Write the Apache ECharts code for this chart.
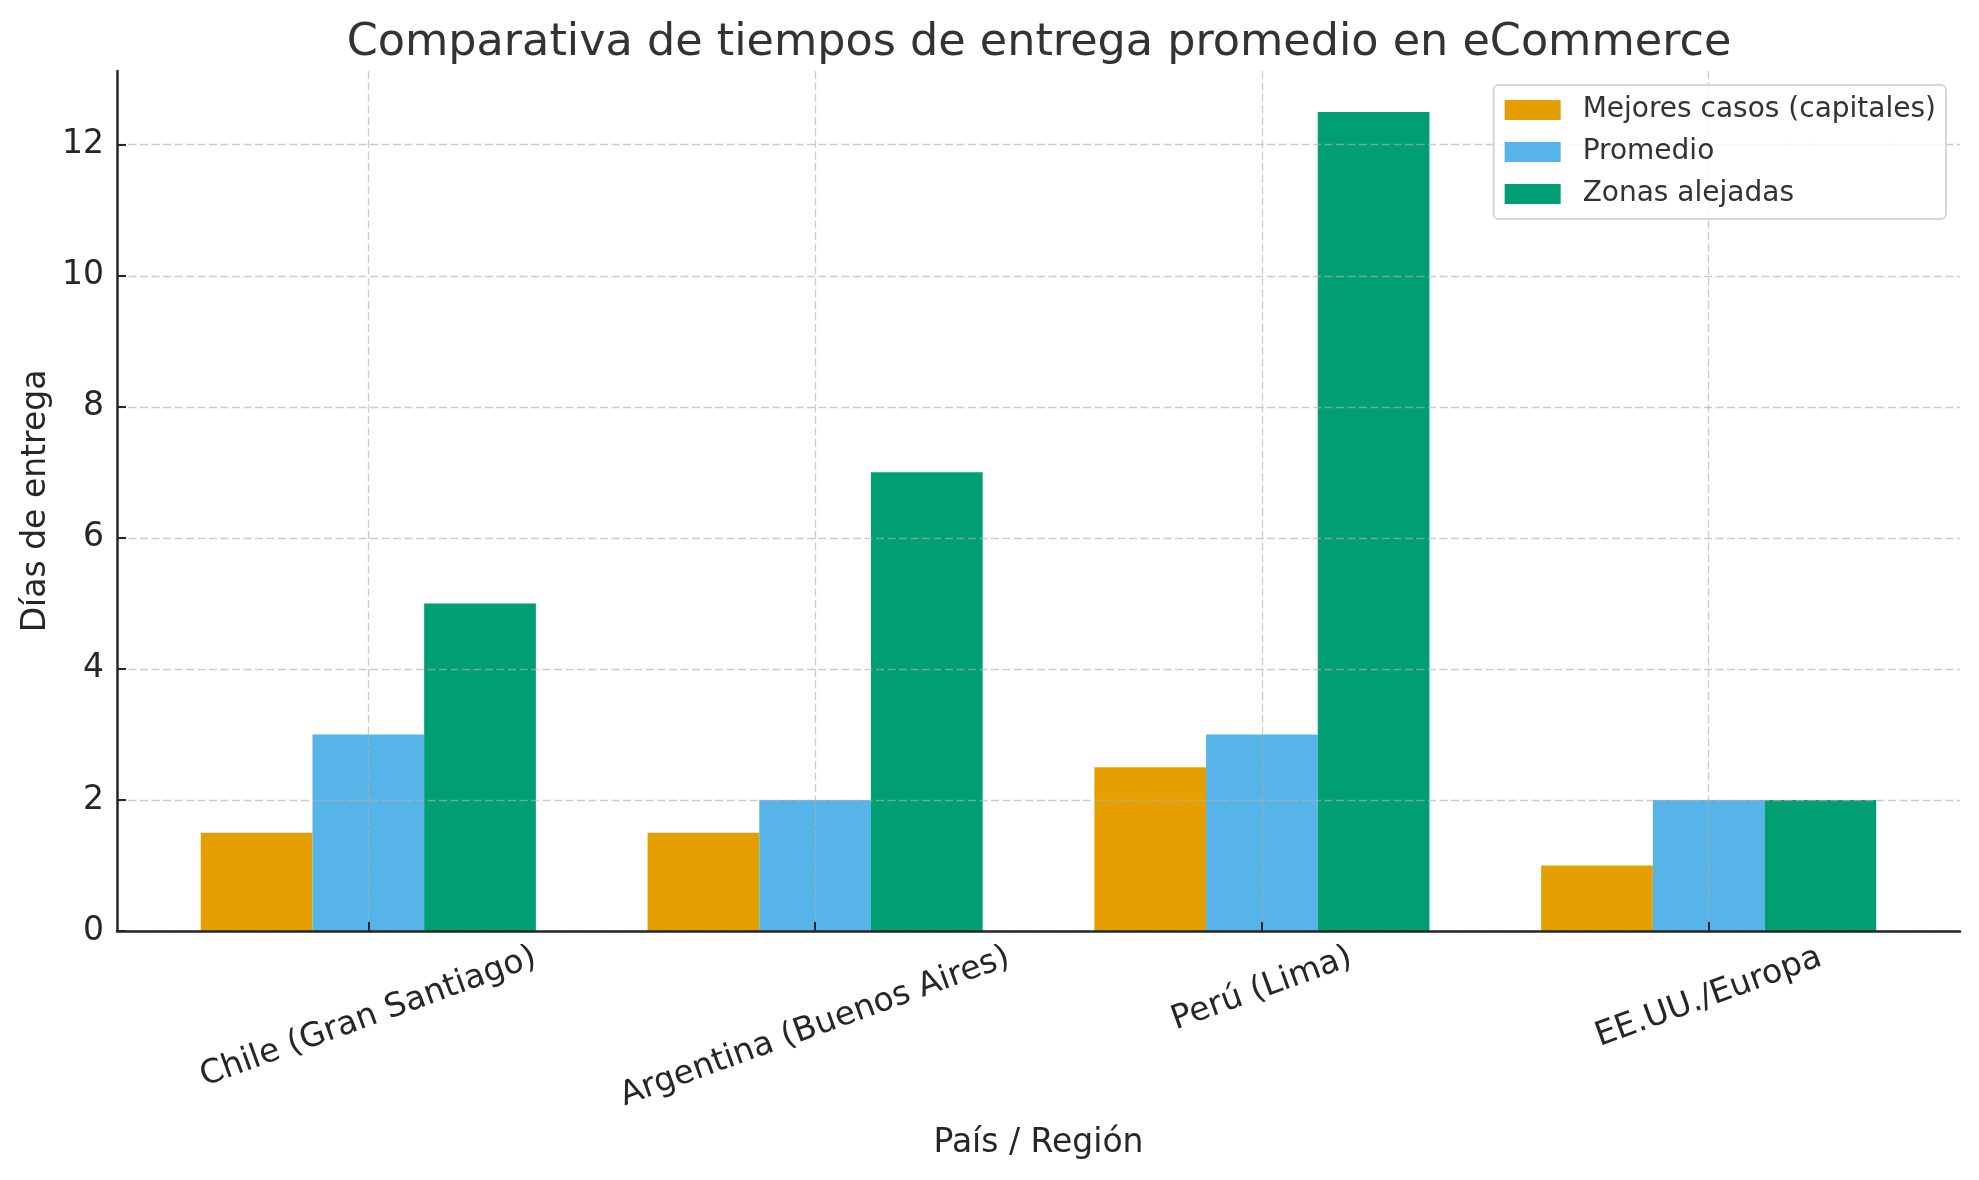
<!DOCTYPE html>
<html>
<head>
<meta charset="utf-8">
<script src="https://cdn.jsdelivr.net/npm/echarts@6/dist/echarts.min.js"></script>
<style>
    html, body { margin: 0; padding: 0; background: #fff; }
    #chart { width: 1979px; height: 1180px; }
</style>
</head>
<body>
<div id="chart"></div>
<script>
var categories = ['Chile (Gran Santiago)', 'Argentina (Buenos Aires)', 'Perú (Lima)', 'EE.UU./Europa'];
var seriesNames = ['Mejores casos (capitales)', 'Promedio', 'Zonas alejadas'];
var bestCase = [1.5, 1.5, 2.5, 1];
var average = [3, 2, 3, 2];
var remoteAreas = [5, 7, 12.5, 2];
var xTicks = [0, 1, 2, 3];
var yTicks = [0, 2, 4, 6, 8, 10, 12];

var FONT = 'DejaVu Sans';
var INK = '#262626';
var GRID = 'rgba(176, 176, 176, 0.65)';
var colors = ['#E69F00', '#56B4E9', '#009E73'];
var LABEL_ROTATE = 20;

/**
 * Rich styles that push each rotated tick label down so the top of its
 * rotated box sits on the same line (the way matplotlib lays them out).
 * @returns {object}
 */
function buildLabelRich() {
    var ctx = document.createElement('canvas').getContext('2d');
    ctx.font = '33px "' + FONT + '"';
    var widths = categories.map(function (c) { return ctx.measureText(c).width; });
    var minW = Math.min.apply(null, widths);
    var a = LABEL_ROTATE * Math.PI / 180;
    var rich = {};
    widths.forEach(function (w, i) {
        var d = (w - minW) * Math.sin(a) / 2;
        var p = 2 * d * Math.cos(a);
        rich['c' + i] = {
            fontFamily: FONT,
            fontSize: 33,
            color: INK,
            padding: [p, p * Math.tan(a), 0, 0],
        };
    });
    return rich;
}

function toPairs(values) {
    return values.map(function (v, i) { return [i, v]; });
}

var chart = echarts.init(document.getElementById('chart'));
chart.setOption({
    animation: false,
    backgroundColor: '#fff',
    textStyle: { fontFamily: FONT },
    title: {
        text: 'Comparativa de tiempos de entrega promedio en eCommerce',
        left: 1034,
        top: 16,
        textAlign: 'center',
        textStyle: { fontFamily: FONT, fontSize: 44.5, fontWeight: 'normal', color: '#333' },
    },
    legend: {
        orient: 'vertical',
        right: 33,
        top: 85,
        data: seriesNames,
        icon: 'rect',
        itemWidth: 56,
        itemHeight: 20,
        itemGap: 14,
        padding: [11, 10, 11, 11],
        backgroundColor: 'rgba(255,255,255,0.8)',
        borderColor: '#d6d6d6',
        borderWidth: 2,
        borderRadius: 5,
        textStyle: { fontFamily: FONT, fontSize: 28, lineHeight: 28, color: '#333', padding: [0, 0, 0, 17] },
        z: 10,
    },
    grid: { left: 117, right: 19, top: 71, bottom: 249, outerBoundsMode: 'none' },
    xAxis: {
        type: 'value',
        min: -0.5625,
        max: 3.5625,
        z: 3,
        name: 'País / Región',
        nameLocation: 'middle',
        nameGap: 196,
        nameMoveOverlap: false,
        nameTextStyle: { fontFamily: FONT, fontSize: 33, color: INK },
        axisLine: { show: true, onZero: false, lineStyle: { color: INK, width: 2.5 } },
        axisTick: { show: true, inside: true, length: 9, customValues: xTicks, lineStyle: { color: INK, width: 2 } },
        axisLabel: {
            customValues: xTicks,
            rotate: LABEL_ROTATE,
            align: 'center',
            verticalAlign: 'middle',
            margin: 58,
            formatter: function (v) { return '{c' + v + '|' + categories[v] + '}'; },
            rich: buildLabelRich(),
        },
        splitLine: { show: true, lineStyle: { color: GRID, width: 1.3, type: [8, 3.5] } },
    },
    yAxis: {
        type: 'value',
        min: 0,
        max: 13.125,
        z: 3,
        name: 'Días de entrega',
        nameLocation: 'middle',
        nameGap: 64,
        nameMoveOverlap: false,
        nameTextStyle: { fontFamily: FONT, fontSize: 33, color: INK },
        axisLine: { show: true, onZero: false, lineStyle: { color: INK, width: 2.5 } },
        axisTick: { show: true, inside: true, length: 9, customValues: yTicks, lineStyle: { color: INK, width: 2 } },
        axisLabel: { customValues: yTicks, margin: 13, fontFamily: FONT, fontSize: 33, color: INK },
        splitLine: { show: true, lineStyle: { color: GRID, width: 1.3, type: [8, 3.5] } },
    },
    series: [
        { type: 'bar', name: seriesNames[0], data: toPairs(bestCase), barWidth: '25%', barGap: '0%', itemStyle: { color: colors[0] } },
        { type: 'bar', name: seriesNames[1], data: toPairs(average), barWidth: '25%', barGap: '0%', itemStyle: { color: colors[1] } },
        { type: 'bar', name: seriesNames[2], data: toPairs(remoteAreas), barWidth: '25%', barGap: '0%', itemStyle: { color: colors[2] } },
    ],
});
</script>
</body>
</html>
